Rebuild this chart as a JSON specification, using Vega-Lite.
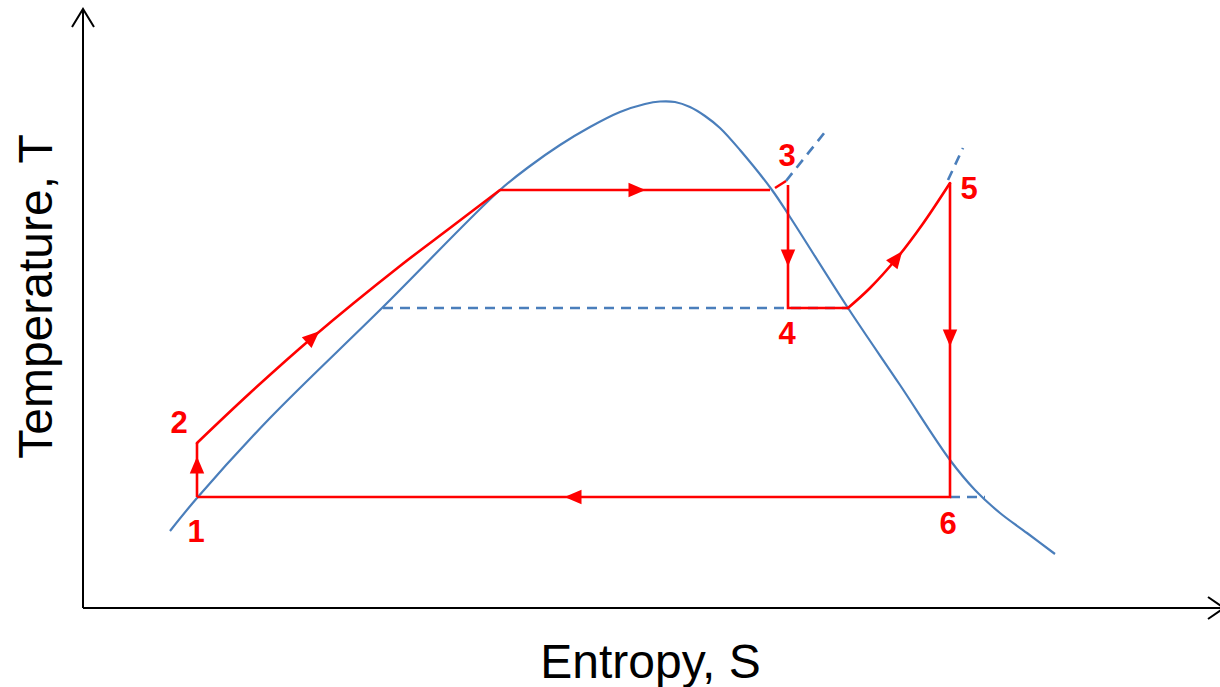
{
  "$schema": "https://vega.github.io/schema/vega-lite/v6.json",
  "width": 1220,
  "height": 687,
  "autosize": {"type": "none"},
  "padding": 0,
  "background": "white",
  "config": {"view": {"stroke": null}},
  "datasets": {
    "lines": [
      {"g": "axisV", "i": 0, "s": 0, "t": 598},
      {"g": "axisV", "i": 1, "s": 0, "t": 0},
      {"g": "axisH", "i": 0, "s": 0, "t": 0},
      {"g": "axisH", "i": 1, "s": 1141, "t": 0},
      {"g": "headUp", "i": 0, "s": -11, "t": 581},
      {"g": "headUp", "i": 1, "s": 0, "t": 599},
      {"g": "headUp", "i": 2, "s": 11, "t": 581},
      {"g": "headRight", "i": 0, "s": 1125, "t": 11},
      {"g": "headRight", "i": 1, "s": 1141, "t": 0},
      {"g": "headRight", "i": 2, "s": 1125, "t": -11},

      {"g": "dome", "i": 0, "s": 87, "t": 77},
      {"g": "dome", "i": 1, "s": 114, "t": 110},
      {"g": "dome", "i": 2, "s": 187, "t": 190},
      {"g": "dome", "i": 3, "s": 300, "t": 301},
      {"g": "dome", "i": 4, "s": 417, "t": 418},
      {"g": "dome", "i": 5, "s": 447, "t": 442},
      {"g": "dome", "i": 6, "s": 477, "t": 463},
      {"g": "dome", "i": 7, "s": 507, "t": 481},
      {"g": "dome", "i": 8, "s": 537, "t": 496},
      {"g": "dome", "i": 9, "s": 562, "t": 504},
      {"g": "dome", "i": 10, "s": 577, "t": 506.5},
      {"g": "dome", "i": 11, "s": 592, "t": 506},
      {"g": "dome", "i": 12, "s": 607, "t": 501},
      {"g": "dome", "i": 13, "s": 622, "t": 492},
      {"g": "dome", "i": 14, "s": 637, "t": 480},
      {"g": "dome", "i": 15, "s": 657, "t": 458},
      {"g": "dome", "i": 16, "s": 689, "t": 418},
      {"g": "dome", "i": 17, "s": 707, "t": 391},
      {"g": "dome", "i": 18, "s": 765, "t": 300},
      {"g": "dome", "i": 19, "s": 817, "t": 223},
      {"g": "dome", "i": 20, "s": 867, "t": 148},
      {"g": "dome", "i": 21, "s": 892, "t": 118},
      {"g": "dome", "i": 22, "s": 917, "t": 95},
      {"g": "dome", "i": 23, "s": 944, "t": 75},
      {"g": "dome", "i": 24, "s": 972, "t": 54},

      {"g": "dash1", "i": 0, "s": 300, "t": 300},
      {"g": "dash1", "i": 1, "s": 765, "t": 300},
      {"g": "dash2", "i": 0, "s": 867, "t": 111},
      {"g": "dash2", "i": 1, "s": 902, "t": 111},
      {"g": "dash3", "i": 0, "s": 703, "t": 427},
      {"g": "dash3", "i": 1, "s": 742, "t": 476},
      {"g": "dash4", "i": 0, "s": 865, "t": 428},
      {"g": "dash4", "i": 1, "s": 880, "t": 460},

      {"g": "redV1", "i": 0, "s": 114, "t": 111},
      {"g": "redV1", "i": 1, "s": 114, "t": 165},
      {"g": "redH1", "i": 0, "s": 417, "t": 418},
      {"g": "redH1", "i": 1, "s": 687, "t": 418},
      {"g": "redDash", "i": 0, "s": 692, "t": 420},
      {"g": "redDash", "i": 1, "s": 703, "t": 427},
      {"g": "redB", "i": 0, "s": 705, "t": 423},
      {"g": "redB", "i": 1, "s": 705, "t": 300},
      {"g": "redB", "i": 2, "s": 765, "t": 300},
      {"g": "redC", "i": 0, "s": 867, "t": 425},
      {"g": "redC", "i": 1, "s": 867, "t": 111},
      {"g": "redC", "i": 2, "s": 114, "t": 111},

      {"g": "curve1", "i": 0, "s": 114, "t": 165},
      {"g": "curve1", "i": 1, "s": 167, "t": 215},
      {"g": "curve1", "i": 2, "s": 230, "t": 271},
      {"g": "curve1", "i": 3, "s": 317, "t": 342},
      {"g": "curve1", "i": 4, "s": 367, "t": 380},
      {"g": "curve1", "i": 5, "s": 417, "t": 418},
      {"g": "curve2", "i": 0, "s": 765, "t": 300},
      {"g": "curve2", "i": 1, "s": 787, "t": 320},
      {"g": "curve2", "i": 2, "s": 814, "t": 350},
      {"g": "curve2", "i": 3, "s": 839, "t": 383},
      {"g": "curve2", "i": 4, "s": 867, "t": 425}
    ],
    "arrows": [
      {"dir": "up", "s": 114, "t": 143},
      {"dir": "upright48", "s": 230, "t": 271},
      {"dir": "right", "s": 554, "t": 418},
      {"dir": "down", "s": 705, "t": 350},
      {"dir": "upright38", "s": 814, "t": 350},
      {"dir": "down", "s": 867, "t": 270},
      {"dir": "left", "s": 490, "t": 111}
    ],
    "labels": [
      {"label": "1", "s": 113, "t": 75},
      {"label": "2", "s": 96, "t": 184},
      {"label": "3", "s": 704, "t": 451},
      {"label": "4", "s": 704, "t": 273},
      {"label": "5", "s": 886, "t": 418},
      {"label": "6", "s": 865, "t": 83}
    ]
  },
  "encoding": {
    "x": {
      "field": "s", "type": "quantitative",
      "scale": {"domain": [-83, 1137], "nice": false, "zero": false},
      "axis": {
        "title": "Entropy, S", "domain": false, "ticks": false, "labels": false, "grid": false,
        "titleFont": "Liberation Sans", "titleFontSize": 48, "titleFontWeight": "normal", "titleColor": "black",
        "titleX": 650, "titleY": -10, "titleBaseline": "alphabetic", "titleAlign": "center", "titleAnchor": null
      }
    },
    "y": {
      "field": "t", "type": "quantitative",
      "scale": {"domain": [-79, 608], "nice": false, "zero": false},
      "axis": {
        "title": "Temperature, T", "domain": false, "ticks": false, "labels": false, "grid": false,
        "titleFont": "Liberation Sans", "titleFontSize": 48, "titleFontWeight": "normal", "titleColor": "black",
        "titleX": 51, "titleY": 296, "titleAngle": -90, "titleBaseline": "alphabetic", "titleAlign": "center", "titleAnchor": null
      }
    }
  },
  "layer": [
    {
      "data": {"name": "lines"},
      "transform": [{"filter": "indexof(['axisV','axisH','headUp','headRight'], datum.g) >= 0"}],
      "mark": {"type": "line", "color": "black", "strokeWidth": 2},
      "encoding": {"detail": {"field": "g"}, "order": {"field": "i", "type": "quantitative"}}
    },
    {
      "data": {"name": "lines"},
      "transform": [{"filter": "datum.g == 'dome'"}],
      "mark": {"type": "line", "color": "#4A7EBB", "strokeWidth": 2.2, "interpolate": "catmull-rom"},
      "encoding": {"order": {"field": "i", "type": "quantitative"}}
    },
    {
      "data": {"name": "lines"},
      "transform": [{"filter": "indexof(['dash1','dash2','dash3','dash4'], datum.g) >= 0"}],
      "mark": {"type": "line", "color": "#4A7EBB", "strokeWidth": 2.6, "strokeDash": [10, 7]},
      "encoding": {"detail": {"field": "g"}, "order": {"field": "i", "type": "quantitative"}}
    },
    {
      "data": {"name": "lines"},
      "transform": [{"filter": "indexof(['redV1','redH1','redDash','redB','redC'], datum.g) >= 0"}],
      "mark": {"type": "line", "color": "#FF0000", "strokeWidth": 2.6, "strokeJoin": "miter"},
      "encoding": {"detail": {"field": "g"}, "order": {"field": "i", "type": "quantitative"}}
    },
    {
      "data": {"name": "lines"},
      "transform": [{"filter": "indexof(['curve1','curve2'], datum.g) >= 0"}],
      "mark": {"type": "line", "color": "#FF0000", "strokeWidth": 2.6, "strokeCap": "round", "interpolate": "catmull-rom"},
      "encoding": {"detail": {"field": "g"}, "order": {"field": "i", "type": "quantitative"}}
    },
    {
      "data": {"name": "arrows"},
      "mark": {"type": "point", "filled": true, "color": "#FF0000", "opacity": 1, "size": 289, "strokeWidth": 0},
      "encoding": {
        "shape": {
          "field": "dir", "type": "nominal", "legend": null,
          "scale": {
            "domain": ["up", "down", "right", "left", "upright48", "upright38"],
            "range": [
              "M0,-1L0.85,1L-0.85,1Z",
              "M0,1L0.85,-1L-0.85,-1Z",
              "M1,0L-1,0.85L-1,-0.85Z",
              "M-1,0L1,0.85L1,-0.85Z",
              "M0.743,-0.669L-0.174,1.301L-1.312,0.037Z",
              "M0.616,-0.788L0.054,1.312L-1.286,0.264Z"
            ]
          }
        }
      }
    },
    {
      "data": {"name": "labels"},
      "mark": {"type": "text", "color": "#FF0000", "font": "Liberation Sans", "fontWeight": "bold", "fontSize": 31, "align": "center", "baseline": "middle"},
      "encoding": {"text": {"field": "label"}}
    }
  ]
}
